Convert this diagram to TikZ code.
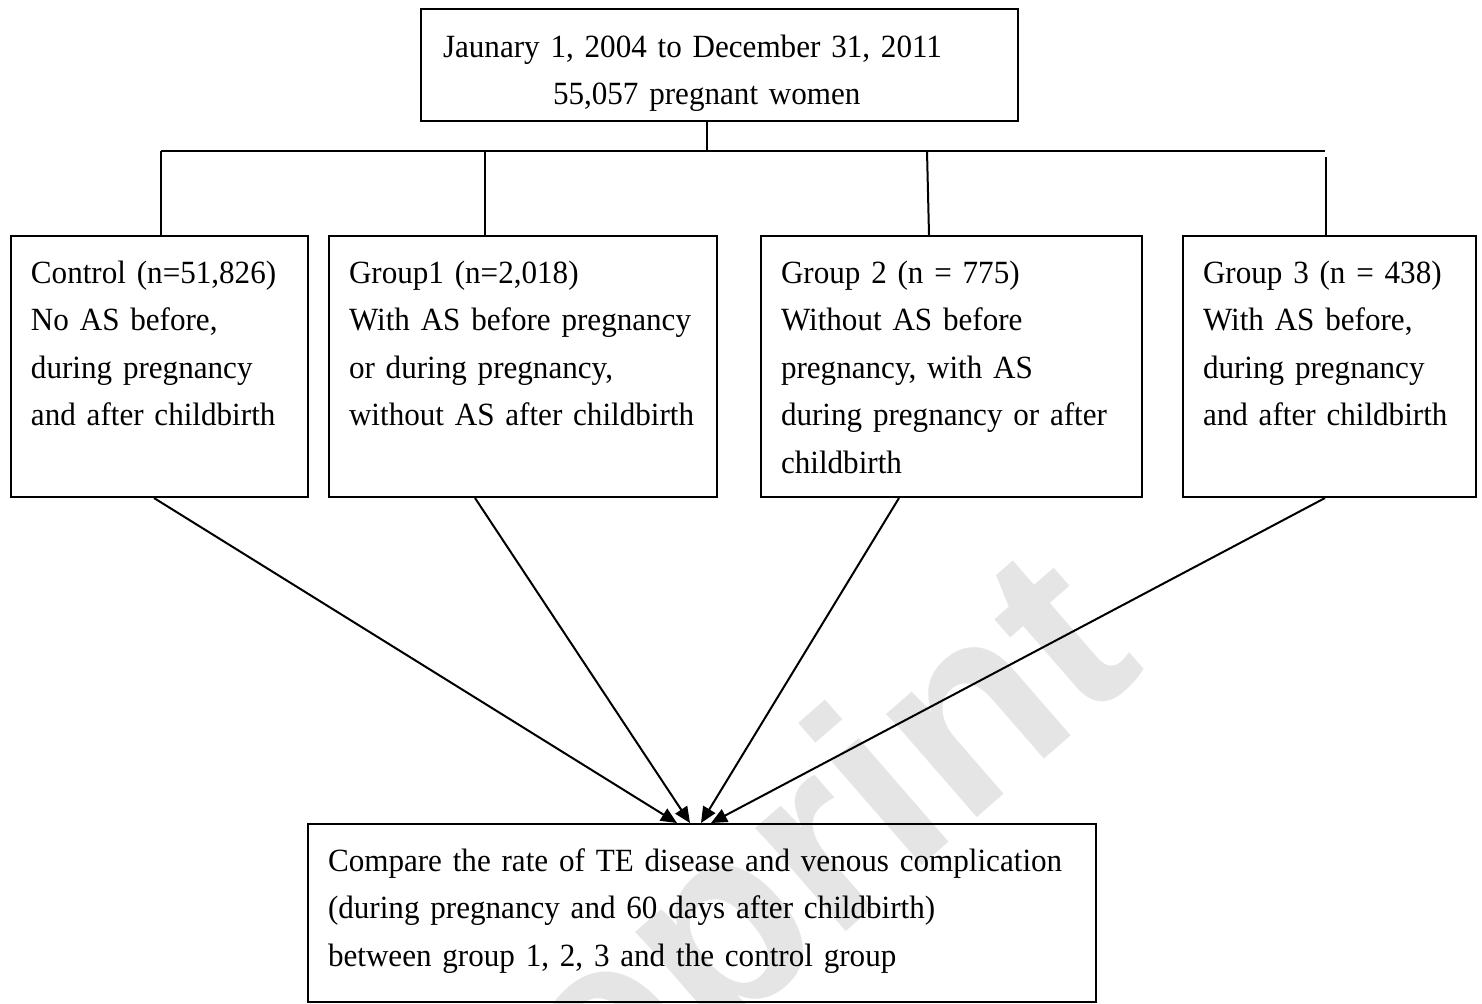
\documentclass[tikz,border=0pt]{standalone}
\usepackage{fontspec}
\setmainfont{Liberation Serif}[FakeStretch=0.96]
\newfontfamily\wmfont{Liberation Sans}
\usetikzlibrary{arrows.meta}

\tikzset{
  grpbox/.style={draw, anchor=north west, align=left, inner xsep=10pt, inner ysep=11.5pt,
    text height=12pt, text depth=95.5pt, text width=#1},
}

\begin{document}
\begin{tikzpicture}[x=0.5pt, y=-0.5pt, line width=1pt,
  font=\fontsize{16.2}{23.8}\selectfont,
  >={Triangle[length=8pt,width=7pt]}]
\useasboundingbox (0,0) rectangle (1482,1003);

% watermark
\node[rotate=41, text=black!10, font=\wmfont\bfseries\fontsize{130}{130}\selectfont] (wm) at (728,945) {Preprint};

\node[draw, anchor=north west, align=left, inner xsep=10pt, inner ysep=11.5pt,
  text height=12.5pt, text depth=20.5pt, text width=278.5pt] (src) at (420,8)
  {\hspace*{1pt}Jaunary 1, 2004 to December 31, 2011\\\hspace*{56pt}55,057 pregnant women};

\node[grpbox=128.5pt] (ctrl) at (10,235) {Control (n=51,826)\\No AS before,\\during pregnancy\\and after childbirth};
\node[grpbox=174pt] (g1) at (328,235) {Group1 (n=2,018)\\With AS before pregnancy\\or during pregnancy,\\without AS after childbirth};
\node[grpbox=170.5pt] (g2) at (760,235) {Group 2 (n = 775)\\Without AS before\\pregnancy, with AS\\during pregnancy or after\\childbirth};
\node[grpbox=126.5pt] (g3) at (1182,235) {Group 3 (n = 438)\\With AS before,\\during pregnancy\\and after childbirth};

\node[grpbox=374pt, text depth=54pt] (cmp) at (307,823)
  {Compare the rate of TE disease and venous complication\\(during pregnancy and 60 days after childbirth)\\between group 1, 2, 3 and the control group};

% tree
\coordinate (busl) at (161,151);
\coordinate (busr) at (1325,151);
\draw ([xshift=-6.25pt]src.south) -- ([xshift=-6.25pt]src.south |- busl);
\draw (busl) -- (busr);
\draw (busl) -- (busl |- ctrl.north);
\draw ([xshift=-19pt]g1.north |- busl) -- ([xshift=-19pt]g1.north);
\draw ([xshift=-12.25pt]g2.north |- busl) -- ([xshift=-11.25pt]g2.north);
\draw ([xshift=-1.75pt,yshift=-3pt]g3.north |- busr) -- ([xshift=-1.75pt]g3.north);

% arrows
\foreach \n/\a/\b in {ctrl/-2.75/-12.5, g1/-24/-6, g2/-26.25/-0.5, g3/-2.25/4.5}
  \draw[->] ([xshift=\a pt]\n.south) -- ([xshift=\b pt]cmp.north);
\end{tikzpicture}
\end{document}
